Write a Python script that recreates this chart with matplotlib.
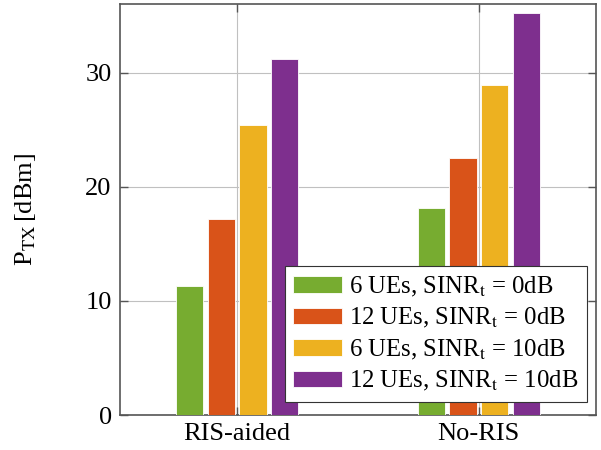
import numpy as np
import matplotlib.pyplot as plt

plt.rcParams['font.family'] = 'serif'
plt.rcParams['font.serif'] = ['Liberation Serif', 'DejaVu Serif']
plt.rcParams['mathtext.fontset'] = 'stix'

# data
categories = ['RIS-aided', 'No-RIS']
series_labels = [r'6 UEs, SINR$_\mathrm{t}$ = 0dB',
                 r'12 UEs, SINR$_\mathrm{t}$ = 0dB',
                 r'6 UEs, SINR$_\mathrm{t}$ = 10dB',
                 r'12 UEs, SINR$_\mathrm{t}$ = 10dB']
ue6_0db = [11.3, 18.1]
ue12_0db = [17.15, 22.5]
ue6_10db = [25.4, 28.9]
ue12_10db = [31.2, 35.2]
series = [ue6_0db, ue12_0db, ue6_10db, ue12_10db]
colors = ['#77AC30', '#D95319', '#EDB120', '#7E2F8E']

fig = plt.figure(figsize=(6.01, 4.5), dpi=100)
ax = fig.add_axes([120 / 601, 35 / 450, 476 / 601, 411 / 450])

x = np.arange(len(categories))
width = 0.113
offsets = [-0.196, -0.066, 0.066, 0.196]
for vals, off, c, lab in zip(series, offsets, colors, series_labels):
    ax.bar(x + off, vals, width, color=c, edgecolor='white', linewidth=0.6,
           label=lab, zorder=3)

ax.set_xlim(-0.485, 1.485)
ax.set_ylim(0, 36)
ax.set_xticks(x)
ax.set_xticklabels(categories)
ax.set_yticks([0, 10, 20, 30])
ax.grid(True, color='#c0c0c0', linewidth=0.8, zorder=0)
ax.set_axisbelow(True)
ax.tick_params(direction='in', length=6, width=1.0, color='#555555',
               labelsize=19, top=True, right=True, pad=6)
for s in ax.spines.values():
    s.set_color('#555555')
    s.set_linewidth(1.2)

ax.set_ylabel(r'P$_\mathrm{TX}\,$[dBm]', fontsize=19, labelpad=34)

leg = ax.legend(loc='lower right', bbox_to_anchor=(587 / 601, 48 / 450),
                bbox_transform=fig.transFigure,
                fontsize=17.8, frameon=True, fancybox=False,
                edgecolor='#333333', framealpha=1, borderpad=0.35,
                handlelength=1.95, handleheight=0.65, labelspacing=0.3,
                handletextpad=0.3, borderaxespad=0)
leg.get_frame().set_linewidth(0.8)

fig.savefig('out.png', dpi=100)
